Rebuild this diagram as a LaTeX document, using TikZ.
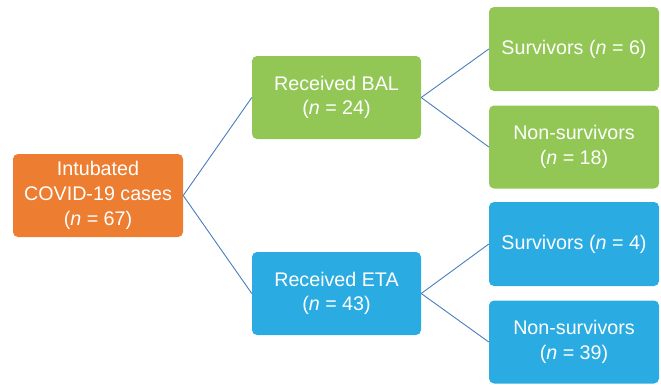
\documentclass[tikz,border=0pt]{standalone}
\usepackage{fontspec}
\setmainfont{Liberation Sans}
\definecolor{boxorange}{HTML}{ED7D31}
\definecolor{boxgreen}{HTML}{92C755}
\definecolor{boxblue}{HTML}{2AACE2}
\definecolor{linkblue}{HTML}{4A7EBB}
\begin{document}
\begin{tikzpicture}[x=1pt,y=-1pt,
  box/.style={rectangle, rounded corners=5pt, draw=none, text=white, align=center,
    minimum width=170pt, minimum height=83pt, inner sep=0pt,
    font=\fontsize{19.7}{24.7}\selectfont},
  link/.style={draw=linkblue, line width=0.9pt}]
\useasboundingbox (0,0) rectangle (661,384);
\node[box, fill=boxorange] (intub) at (98,195.5) {Intubated\\COVID-19 cases\\(\textit{n} = 67)};
\node[box, fill=boxgreen, minimum width=169pt] (bal) at (336.5,97.5) {Received BAL\\(\textit{n} = 24)};
\node[box, fill=boxblue, minimum width=169pt] (eta) at (336.5,293.5) {Received ETA\\(\textit{n} = 43)};
\node[box, fill=boxgreen, minimum height=84pt] (bs) at (574,49) {Survivors (\textit{n} = 6)};
\node[box, fill=boxgreen, minimum height=83pt] (bn) at (574,147) {Non-survivors\\(\textit{n} = 18)};
\node[box, fill=boxblue, minimum height=84pt] (es) at (574,244) {Survivors (\textit{n} = 4)};
\node[box, fill=boxblue, minimum height=83pt] (en) at (574,342) {Non-survivors\\(\textit{n} = 39)};
\draw[link] (intub.east) -- (bal.west);
\draw[link] (intub.east) -- (eta.west);
\draw[link] (bal.east) -- (bs.west);
\draw[link] (bal.east) -- (bn.west);
\draw[link] (eta.east) -- (es.west);
\draw[link] (eta.east) -- (en.west);
\end{tikzpicture}
\end{document}
